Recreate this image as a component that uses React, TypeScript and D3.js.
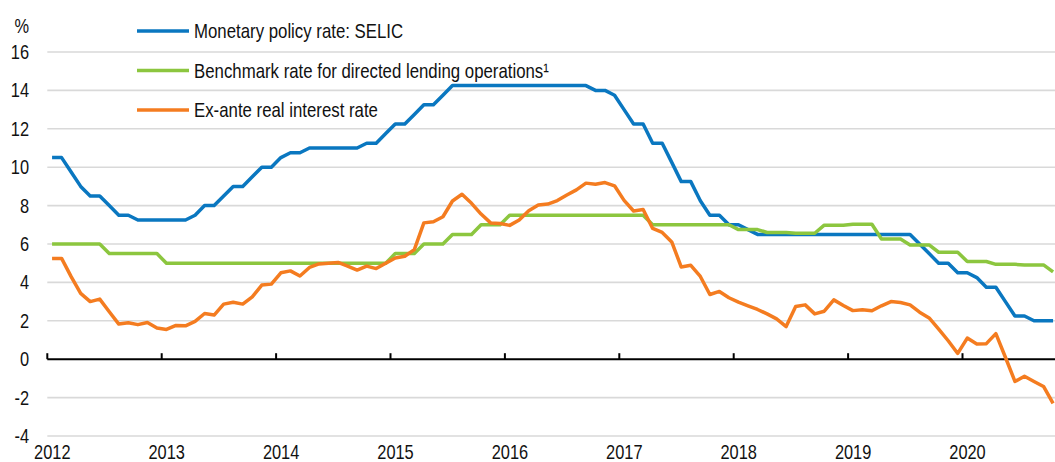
import * as d3 from 'd3';

// monthly observations, Jan 2012 - Oct 2020, in %
const selic = [
  10.5, 10.5, 9.75, 9.0, 8.5, 8.5, 8.0, 7.5, 7.5, 7.25, 7.25, 7.25,
  7.25, 7.25, 7.25, 7.5, 8.0, 8.0, 8.5, 9.0, 9.0, 9.5, 10.0, 10.0,
  10.5, 10.75, 10.75, 11.0, 11.0, 11.0, 11.0, 11.0, 11.0, 11.25, 11.25, 11.75,
  12.25, 12.25, 12.75, 13.25, 13.25, 13.75, 14.25, 14.25, 14.25, 14.25, 14.25, 14.25,
  14.25, 14.25, 14.25, 14.25, 14.25, 14.25, 14.25, 14.25, 14.25, 14.0, 14.0, 13.75,
  13.0, 12.25, 12.25, 11.25, 11.25, 10.25, 9.25, 9.25, 8.25, 7.5, 7.5, 7.0,
  7.0, 6.75, 6.5, 6.5, 6.5, 6.5, 6.5, 6.5, 6.5, 6.5, 6.5, 6.5,
  6.5, 6.5, 6.5, 6.5, 6.5, 6.5, 6.5, 6.0, 5.5, 5.0, 5.0, 4.5,
  4.5, 4.25, 3.75, 3.75, 3.0, 2.25, 2.25, 2.0, 2.0, 2.0,
];

const benchmark = [
  6.0, 6.0, 6.0, 6.0, 6.0, 6.0, 5.5, 5.5, 5.5, 5.5, 5.5, 5.5,
  5.0, 5.0, 5.0, 5.0, 5.0, 5.0, 5.0, 5.0, 5.0, 5.0, 5.0, 5.0,
  5.0, 5.0, 5.0, 5.0, 5.0, 5.0, 5.0, 5.0, 5.0, 5.0, 5.0, 5.0,
  5.5, 5.5, 5.5, 6.0, 6.0, 6.0, 6.5, 6.5, 6.5, 7.0, 7.0, 7.0,
  7.5, 7.5, 7.5, 7.5, 7.5, 7.5, 7.5, 7.5, 7.5, 7.5, 7.5, 7.5,
  7.5, 7.5, 7.5, 7.0, 7.0, 7.0, 7.0, 7.0, 7.0, 7.0, 7.0, 7.0,
  6.75, 6.75, 6.75, 6.6, 6.6, 6.6, 6.56, 6.56, 6.56, 6.98, 6.98, 6.98,
  7.03, 7.03, 7.03, 6.26, 6.26, 6.26, 5.95, 5.95, 5.95, 5.57, 5.57, 5.57,
  5.09, 5.09, 5.09, 4.94, 4.94, 4.94, 4.91, 4.91, 4.91, 4.55,
];

const realRate = [
  5.25, 5.25, 4.3, 3.43, 3.0, 3.13, 2.47, 1.83, 1.9, 1.8, 1.91, 1.62,
  1.55, 1.76, 1.74, 1.97, 2.38, 2.3, 2.87, 2.97, 2.87, 3.25, 3.86, 3.91,
  4.5, 4.6, 4.33, 4.78, 4.96, 5.0, 5.04, 4.85, 4.64, 4.85, 4.72, 5.0,
  5.27, 5.36, 5.71, 7.1, 7.16, 7.42, 8.24, 8.59, 8.12, 7.56, 7.1, 7.07,
  6.97, 7.25, 7.73, 8.03, 8.08, 8.26, 8.55, 8.82, 9.17, 9.11, 9.2, 9.03,
  8.27, 7.72, 7.8, 6.81, 6.6, 6.11, 4.8, 4.89, 4.31, 3.37, 3.53, 3.2,
  2.97, 2.78, 2.59, 2.36, 2.1, 1.7, 2.74, 2.83, 2.36, 2.5, 3.09, 2.8,
  2.53, 2.57, 2.52, 2.78, 3.0, 2.95, 2.83, 2.45, 2.15, 1.57, 0.96, 0.3,
  1.1, 0.79, 0.81, 1.33, 0.1, -1.16, -0.89, -1.16, -1.42, -2.3,
];

const yearTicks = [2012, 2013, 2014, 2015, 2016, 2017, 2018, 2019, 2020];
const yTicks = [-4, -2, 0, 2, 4, 6, 8, 10, 12, 14, 16];
const legendLabels = [
  'Monetary policy rate: SELIC',
  'Benchmark rate for directed lending operations\u00b9',
  'Ex-ante real interest rate',
];
const colors = ['#0a77c0', '#8cc63f', '#f47c20'];

const W = 1055;
const H = 462;
const left = 47.3;
const yearWidth = 114.4;
const months = selic.length;

const FONT = '"Liberation Sans", Arial, sans-serif';

const Narrow = ({ x, y, anchor = 'start', size = 20, children }: any) => (
  <text
    transform={`translate(${x},${y}) scale(0.82,1)`}
    textAnchor={anchor}
    fontSize={size}
    fontFamily={FONT}
    fill="#111"
  >
    {children}
  </text>
);

export default function App() {
  const x = d3.scaleLinear()
    .domain([2012, 2012 + months / 12])
    .range([left, left + (months / 12) * yearWidth]);
  const y = d3.scaleLinear().domain([-4, 16]).range([436, 52]);

  const line = d3.line<number>()
    .x((_, i) => x(2012 + (i + 0.5) / 12))
    .y((d) => y(d));

  const series = [selic, benchmark, realRate];

  return (
    <svg
      width={W}
      height={H}
      style={{ position: 'fixed', top: 0, left: 0, background: '#fff' }}
    >
      {/* gridlines */}
      {yTicks.filter((t) => t !== 0).map((t) => (
        <line key={t} x1={left} x2={W} y1={y(t)} y2={y(t)} stroke="#d9d9d9" strokeWidth={1.6} />
      ))}
      {yTicks.map((t) => (
        <Narrow key={t} x={29} y={y(t) + 7} anchor="end">{t}</Narrow>
      ))}
      <Narrow x={29} y={33} anchor="end">%</Narrow>

      {/* zero axis with year ticks */}
      <line x1={left} x2={W} y1={y(0)} y2={y(0)} stroke="#000" strokeWidth={2} />
      {yearTicks.map((yr) => (
        <g key={yr}>
          <line x1={x(yr)} x2={x(yr)} y1={y(0) - 6} y2={y(0)} stroke="#000" strokeWidth={2} />
          <Narrow x={x(yr) + 5} y={459} anchor="middle">{yr}</Narrow>
        </g>
      ))}

      {series.map((s, k) => (
        <path key={k} d={line(s) || ''} fill="none" stroke={colors[k]} strokeWidth={3.5} strokeLinejoin="round" />
      ))}

      {/* legend */}
      {legendLabels.map((lab, k) => {
        const ly = 31 + k * 39.5;
        return (
          <g key={lab}>
            <line x1={137} x2={189} y1={ly} y2={ly} stroke={colors[k]} strokeWidth={3.5} />
            <Narrow x={194} y={ly + 7} size={20.5}>{lab}</Narrow>
          </g>
        );
      })}
    </svg>
  );
}
